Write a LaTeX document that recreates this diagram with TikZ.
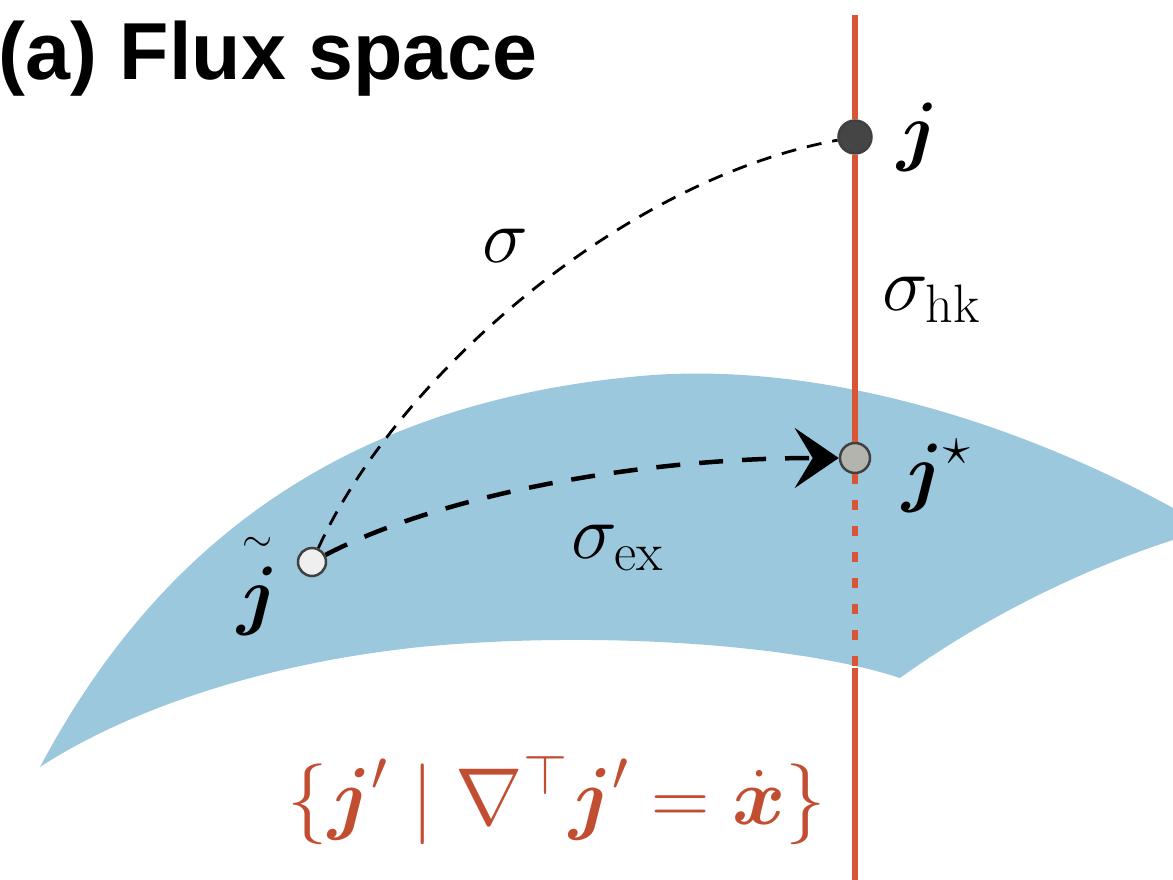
\RequirePackage{fix-cm}
\documentclass[tikz,border=0pt]{standalone}
\usepackage{amsmath}
\usepackage{amssymb}
\usepackage{fontspec}
\usepackage{tikz}
\usetikzlibrary{arrows.meta}
\newfontfamily\titlefont{Liberation Sans}
\definecolor{cSurf}{HTML}{9CC8DE}
\definecolor{cLine}{HTML}{DA5536}
\definecolor{cSetTxt}{HTML}{C24E32}
\definecolor{cDotA}{HTML}{454545}
\definecolor{cDotB}{HTML}{B4B4AE}
\definecolor{cDotC}{HTML}{EFEFEF}
\tikzset{
  dot/.style={circle,draw=black!75,line width=0.25mm,inner sep=0pt,minimum size=3mm},
  jnode/.style={dot,fill=cDotA,minimum size=3.3mm}, snode/.style={dot,fill=cDotB},
  tnode/.style={dot,fill=cDotC,minimum size=2.8mm},
  lbl/.style={font=\fontsize{22}{26}\selectfont,inner sep=0pt},
  cstr/.style={draw=cLine,line width=0.55mm},
  cstrd/.style={cstr,dash pattern=on 1mm off 1.6mm},
  sig/.style={line width=0.28mm,dash pattern=on 1.5mm off 1.1mm},
  sigex/.style={line width=0.45mm,dash pattern=on 2.4mm off 1.9mm,
    -{Stealth[length=4.4mm,width=6mm,inset=1.8mm]}}}

\begin{document}
\begin{tikzpicture}[x=0.1mm,y=-0.1mm]
\useasboundingbox (0,0) rectangle (1173,880);
% feasible surface
\fill[cSurf] (40,767) .. controls (150,560) and (330,400) .. (653,375)
  .. controls (850,362) and (1050,440) .. (1173,508) -- (1173,540)
  .. controls (1080,570) and (980,620) .. (900,678)
  .. controls (800,645) and (600,630) .. (420,647)
  .. controls (250,665) and (120,715) .. (40,767) -- cycle;
\coordinate (top) at (855,15);
\coordinate (cut) at (855,668);
\coordinate (bot) at (855,880);
\node[jnode] (j) at (855,137) {};
\node[snode] (js) at (855,458) {};
\node[tnode] (jt) at (312,562) {};
\draw[cstr] (top) -- (j) -- (js);
\draw[cstrd] (js) -- (cut);
\draw[cstr] (cut) -- (bot);
\draw[sig] (jt) .. controls (395,380) and (620,180) .. (j);
\draw[sigex] (jt) .. controls (440,495) and (640,458) .. (js);
\node[lbl] (lj) at (918,137) {$\boldsymbol{j}$};
\node[lbl] (ljs) at (937,476) {$\boldsymbol{j}^{\star}$};
\node[lbl] (ljt) at (258,583) {$\overset{\scriptscriptstyle\sim}{\boldsymbol{j}}$};
\node[lbl] (ls) at (505,246) {$\sigma$};
\node[lbl] (lshk) at (932,300) {$\sigma_{\mathrm{hk}}$};
\node[lbl] (lsex) at (618,548) {$\sigma_{\mathrm{ex}}$};
\node[lbl,text=cSetTxt,font=\fontsize{23}{27}\selectfont] (lset) at (557,800)
  {$\{\boldsymbol{j}'\mid\nabla^{\top}\boldsymbol{j}'=\dot{\boldsymbol{x}}\}$};
\node[anchor=base west,inner sep=0pt,font=\titlefont\bfseries\fontsize{23}{27}\selectfont]
  (title) at (-2,80) {(a) Flux space};
\end{tikzpicture}
\end{document}
